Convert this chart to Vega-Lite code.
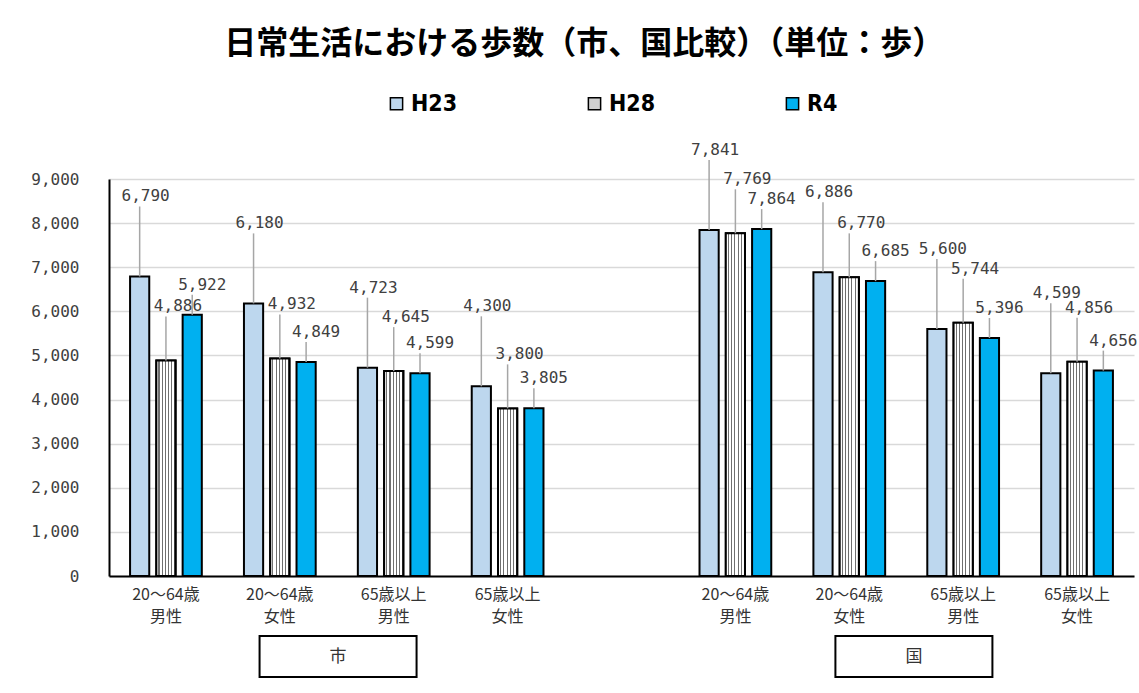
{
  "$schema": "https://vega.github.io/schema/vega-lite/v6.json",
  "padding": {"left": 30, "top": 28, "right": 5, "bottom": 5},
  "background": "white",
  "title": {
    "text": "日常生活における歩数（市、国比較）（単位：歩）",
    "font": "Noto Sans CJK JP",
    "fontSize": 32,
    "fontWeight": "bold",
    "color": "black",
    "anchor": "middle",
    "offset": 31
  },
  "config": {"view": {"stroke": null}, "font": "Noto Sans CJK JP"},
  "spacing": 11,
  "vconcat": [
    {
      "width": 1025,
      "height": 397,
      "data": {
        "values": [
          {"cat": "市|20～64歳|男性", "series": "H23", "value": 6790},
          {"cat": "市|20～64歳|男性", "series": "H28", "value": 4886},
          {"cat": "市|20～64歳|男性", "series": "R4", "value": 5922},
          {"cat": "市|20～64歳|女性", "series": "H23", "value": 6180},
          {"cat": "市|20～64歳|女性", "series": "H28", "value": 4932},
          {"cat": "市|20～64歳|女性", "series": "R4", "value": 4849},
          {"cat": "市|65歳以上|男性", "series": "H23", "value": 4723},
          {"cat": "市|65歳以上|男性", "series": "H28", "value": 4645},
          {"cat": "市|65歳以上|男性", "series": "R4", "value": 4599},
          {"cat": "市|65歳以上|女性", "series": "H23", "value": 4300},
          {"cat": "市|65歳以上|女性", "series": "H28", "value": 3800},
          {"cat": "市|65歳以上|女性", "series": "R4", "value": 3805},
          {"cat": "国|20～64歳|男性", "series": "H23", "value": 7841},
          {"cat": "国|20～64歳|男性", "series": "H28", "value": 7769},
          {"cat": "国|20～64歳|男性", "series": "R4", "value": 7864},
          {"cat": "国|20～64歳|女性", "series": "H23", "value": 6886},
          {"cat": "国|20～64歳|女性", "series": "H28", "value": 6770},
          {"cat": "国|20～64歳|女性", "series": "R4", "value": 6685},
          {"cat": "国|65歳以上|男性", "series": "H23", "value": 5600},
          {"cat": "国|65歳以上|男性", "series": "H28", "value": 5744},
          {"cat": "国|65歳以上|男性", "series": "R4", "value": 5396},
          {"cat": "国|65歳以上|女性", "series": "H23", "value": 4599},
          {"cat": "国|65歳以上|女性", "series": "H28", "value": 4856},
          {"cat": "国|65歳以上|女性", "series": "R4", "value": 4656}
        ]
      },
      "encoding": {
        "x": {
          "field": "cat",
          "type": "nominal",
          "title": null,
          "sort": null,
          "scale": {
            "domain": ["市|20～64歳|男性", "市|20～64歳|女性", "市|65歳以上|男性", "市|65歳以上|女性", "gap", "国|20～64歳|男性", "国|20～64歳|女性", "国|65歳以上|男性", "国|65歳以上|女性"],
            "paddingInner": 0.37,
            "paddingOuter": 0.185
          },
          "axis": {
            "labelExpr": "datum.value == 'gap' ? '' : split(substring(datum.value, 2), '|')",
            "labelAngle": 0,
            "ticks": false,
            "domainColor": "black",
            "domainWidth": 2,
            "labelFont": "Noto Sans CJK JP",
            "labelFontSize": 16,
            "labelLineHeight": 22,
            "labelColor": "#333333",
            "labelPadding": 10,
            "grid": false
          }
        },
        "xOffset": {
          "field": "series",
          "type": "nominal",
          "scale": {"domain": ["H23", "H28", "R4"], "paddingInner": 0.27, "paddingOuter": 0}
        },
        "y": {
          "field": "value",
          "type": "quantitative",
          "title": null,
          "scale": {"domain": [0, 9000]},
          "axis": {
            "values": [0, 1000, 2000, 3000, 4000, 5000, 6000, 7000, 8000, 9000],
            "format": ",.0f",
            "ticks": false,
            "domainColor": "black",
            "domainWidth": 2,
            "gridColor": "#d9d9d9",
            "gridWidth": 1.5,
            "labelFont": "DejaVu Sans Mono",
            "labelFontSize": 16,
            "labelColor": "#404040",
            "labelPadding": 30
          }
        }
      },
      "layer": [
        {
          "mark": {"type": "bar", "stroke": "black", "strokeWidth": 2},
          "encoding": {
            "fill": {
              "field": "series",
              "type": "nominal",
              "scale": {"domain": ["H23", "H28", "R4"], "range": ["#bdd7ee", "#d0d0d0", "#00b0f0"]},
              "legend": {
                "orient": "none",
                "legendX": 276,
                "legendY": -87,
                "direction": "horizontal",
                "title": null,
                "symbolType": "square",
                "symbolSize": 150,
                "symbolStrokeColor": "black",
                "symbolStrokeWidth": 1.5,
                "labelFont": "DejaVu Sans Condensed",
                "labelFontWeight": "bold",
                "labelFontSize": 23,
                "labelColor": "black",
                "labelOffset": 3,
                "columnPadding": 125
              }
            }
          }
        },
        {
          "transform": [{"filter": "datum.series === 'H28'"}],
          "mark": {
            "type": "bar",
            "stroke": "black",
            "strokeWidth": 2,
            "fill": {
              "gradient": "linear",
              "x1": 0, "y1": 0, "x2": 1, "y2": 0,
              "stops": [
                {"offset": 0, "color": "#ffffff"},
                {"offset": 0.11, "color": "#ffffff"},
                {"offset": 0.11, "color": "#6f6f6f"},
                {"offset": 0.1667, "color": "#6f6f6f"},
                {"offset": 0.1667, "color": "#ffffff"},
                {"offset": 0.278, "color": "#ffffff"},
                {"offset": 0.278, "color": "#6f6f6f"},
                {"offset": 0.333, "color": "#6f6f6f"},
                {"offset": 0.333, "color": "#ffffff"},
                {"offset": 0.444, "color": "#ffffff"},
                {"offset": 0.444, "color": "#6f6f6f"},
                {"offset": 0.5, "color": "#6f6f6f"},
                {"offset": 0.5, "color": "#ffffff"},
                {"offset": 0.611, "color": "#ffffff"},
                {"offset": 0.611, "color": "#6f6f6f"},
                {"offset": 0.667, "color": "#6f6f6f"},
                {"offset": 0.667, "color": "#ffffff"},
                {"offset": 0.778, "color": "#ffffff"},
                {"offset": 0.778, "color": "#6f6f6f"},
                {"offset": 0.833, "color": "#6f6f6f"},
                {"offset": 0.833, "color": "#ffffff"},
                {"offset": 0.944, "color": "#ffffff"},
                {"offset": 0.944, "color": "#6f6f6f"},
                {"offset": 1, "color": "#6f6f6f"}
              ]
            }
          }
        },
        {
          "transform": [{"filter": "datum.series === 'H23'"}],
          "mark": {"type": "rule", "color": "#a6a6a6", "strokeWidth": 1.5, "y2Offset": -70},
          "encoding": {"y2": {"field": "value"}}
        },
        {
          "transform": [{"filter": "datum.series === 'H28'"}],
          "mark": {"type": "rule", "color": "#a6a6a6", "strokeWidth": 1.5, "y2Offset": -44},
          "encoding": {"y2": {"field": "value"}}
        },
        {
          "transform": [{"filter": "datum.series === 'R4'"}],
          "mark": {"type": "rule", "color": "#a6a6a6", "strokeWidth": 1.5, "y2Offset": -20},
          "encoding": {"y2": {"field": "value"}}
        },
        {
          "transform": [{"filter": "datum.series === 'H23'"}],
          "mark": {"type": "text", "dy": -80, "dx": 6, "font": "DejaVu Sans Mono", "fontSize": 16, "color": "#404040"},
          "encoding": {"text": {"field": "value", "type": "quantitative", "format": ","}}
        },
        {
          "transform": [{"filter": "datum.series === 'H28'"}],
          "mark": {"type": "text", "dy": -54, "dx": 12, "font": "DejaVu Sans Mono", "fontSize": 16, "color": "#404040"},
          "encoding": {"text": {"field": "value", "type": "quantitative", "format": ","}}
        },
        {
          "transform": [{"filter": "datum.series === 'R4'"}],
          "mark": {"type": "text", "dy": -30, "dx": 10, "font": "DejaVu Sans Mono", "fontSize": 16, "color": "#404040"},
          "encoding": {"text": {"field": "value", "type": "quantitative", "format": ","}}
        }
      ]
    },
    {
      "width": 1025,
      "height": 41,
      "data": {"values": [{"group": "市"}, {"group": "国"}]},
      "encoding": {
        "x": {
          "field": "group",
          "type": "nominal",
          "sort": null,
          "scale": {"type": "point", "domain": ["市", "国"], "padding": 0.39, "align": 0.51},
          "axis": null
        }
      },
      "layer": [
        {"mark": {"type": "bar", "fill": "white", "stroke": "black", "strokeWidth": 2, "width": 157}},
        {
          "mark": {"type": "text", "fontSize": 17, "font": "Noto Sans CJK JP", "color": "#333333"},
          "encoding": {"text": {"field": "group"}, "y": {"value": 20.5}}
        }
      ]
    }
  ]
}
